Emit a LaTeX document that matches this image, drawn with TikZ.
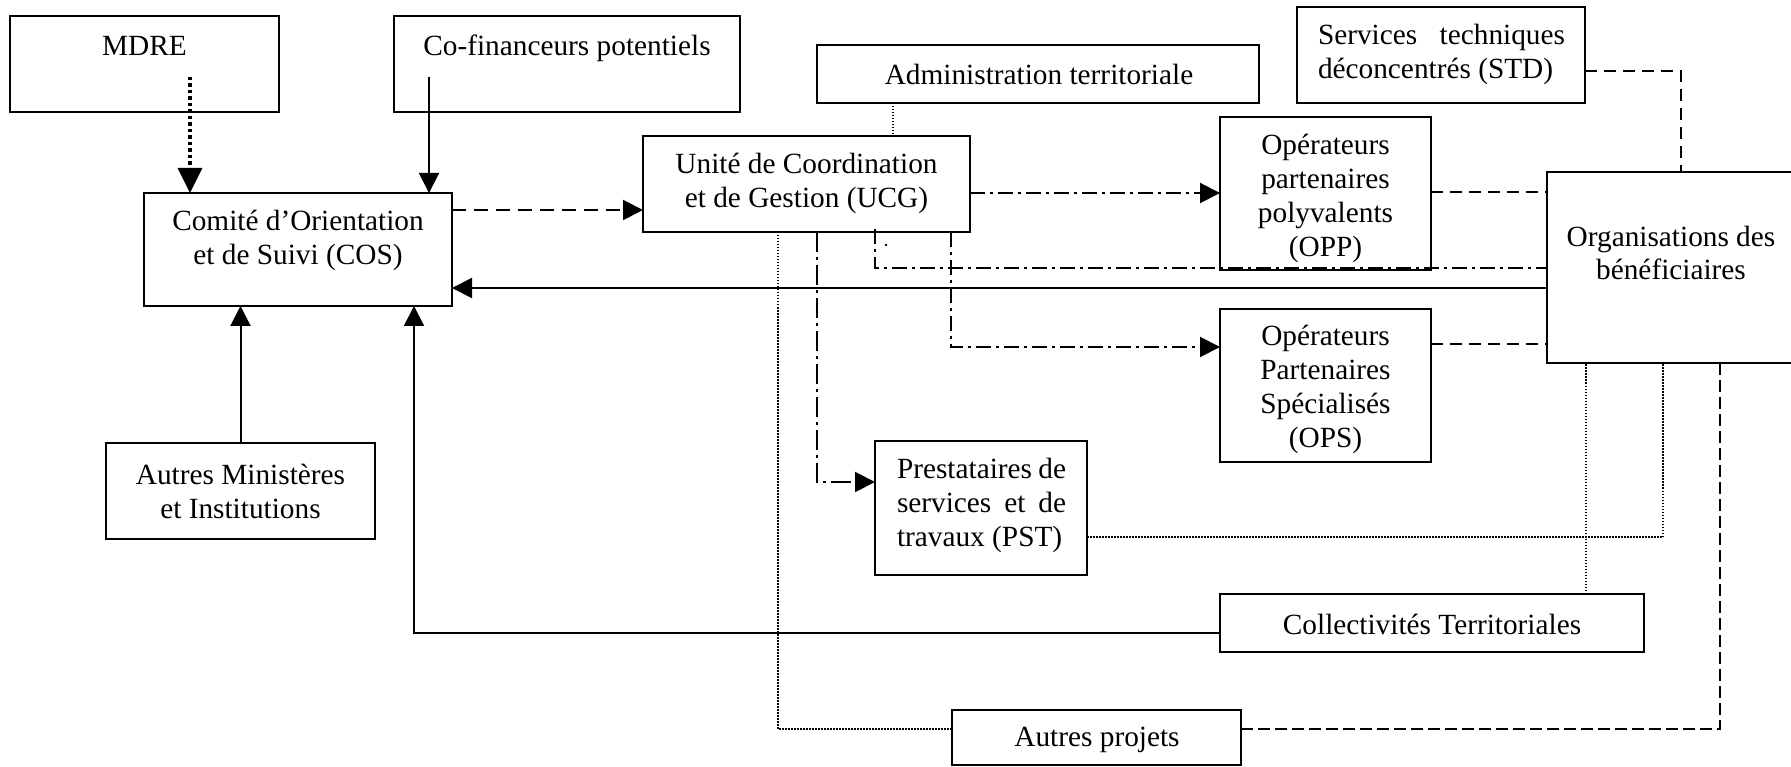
\documentclass[tikz,border=0pt]{standalone}
\usepackage{fontspec}
\setmainfont{Liberation Serif}
\usetikzlibrary{arrows.meta,calc}
\tikzset{
  box/.style={draw, line width=2pt, inner sep=0pt, outer sep=0pt},
  txt/.style={inner sep=0pt, outer sep=0pt, align=center},
  conn/.style={line width=2pt},
  arr/.style={-{Triangle[length=20pt,width=20pt]}},
  bigarr/.style={-{Triangle[length=25pt,width=24pt]}},
  dashln/.style={conn, dash pattern=on 12pt off 7pt},
  ddln/.style={conn, dash pattern=on 15pt off 5pt on 3pt off 5pt},
  thindot/.style={line width=1.4pt, dash pattern=on 1.5pt off 1.5pt},
  thickdot/.style={line width=3.5pt, dash pattern=on 3.5pt off 3pt},
}
\begin{document}
\begin{tikzpicture}[x=1pt,y=-1pt,font=\fontsize{29.3}{34}\selectfont]
\useasboundingbox (0,0) rectangle (1791,767);
% boxes
\node[box, minimum width=269pt, minimum height=96pt] (mdre) at (144.5,64) {};
\node[box, minimum width=346pt, minimum height=96pt] (cofin) at (567,64) {};
\node[box, minimum width=442pt, minimum height=58pt] (admin) at (1038,74) {};
\node[box, minimum width=288pt, minimum height=96pt] (std) at (1441,55) {};
\node[box, minimum width=308pt, minimum height=113pt] (cos) at (298,249.5) {};
\node[box, minimum width=327pt, minimum height=96pt] (ucg) at (806.5,184) {};
\node[box, minimum width=211pt, minimum height=153pt] (opp) at (1325.5,193.5) {};
\node[box, minimum width=248pt, minimum height=191pt] (org) at (1671,267.5) {};
\node[box, minimum width=211pt, minimum height=153pt] (ops) at (1325.5,385.5) {};
\node[box, minimum width=212pt, minimum height=134pt] (pst) at (981,508) {};
\node[box, minimum width=269pt, minimum height=96pt] (autmin) at (240.5,491) {};
\node[box, minimum width=424pt, minimum height=58pt] (coll) at (1432,623) {};
\node[box, minimum width=289pt, minimum height=55pt] (autproj) at (1096.5,737.5) {};
% texts
\node[txt] (mdret) at (144.5,46) {MDRE};
\node[txt] (cofint) at (567,48) {Co-financeurs potentiels};
\node[txt] (admint) at (1039,74) {Administration territoriale};
\node[txt, align=left] (stdt) at (1441.5,54) {\hbox to 247pt{Services\hfill techniques}\\déconcentrés (STD)};
\node[txt] (cost) at (298,240) {Comité d’Orientation\\et de Suivi (COS)};
\node[txt] (ucgt) at (806.5,183) {Unité de Coordination\\et de Gestion (UCG)};
\node[txt] (oppt) at (1325.5,198) {Opérateurs\\partenaires\\polyvalents\\(OPP)};
\node[txt, font=\fontsize{29.3}{33}\selectfont] (orgt) at (1671,253) {Organisations des\\bénéficiaires};
\node[txt] (opst) at (1325.5,389) {Opérateurs\\Partenaires\\Spécialisés\\(OPS)};
\node[txt, align=left] (pstt) at (981.5,505) {\hbox to 169pt{Prestataires\hfill de}\\\hbox to 169pt{services\hfill et\hfill de}\\travaux (PST)};
\node[txt] (autmint) at (240.5,491) {Autres Ministères\\et Institutions};
\node[txt] (collt) at (1432,624) {Collectivités Territoriales};
\node[txt] (autprojt) at (1097,740) {Autres projets};
% connectors
\coordinate (mdreS) at (190,77);
\coordinate (cofinS) at (429,77);
\draw[thickdot, bigarr] (mdreS) -- (mdreS |- cos.north);
\draw[conn, arr] (cofinS) -- (cofinS |- cos.north);
\draw[conn, dash pattern=on 14pt off 8pt, arr] ([yshift=39.5pt]cos.east) -- ([yshift=39.5pt]cos.east -| ucg.west);
\draw[ddln, arr] ([yshift=-9pt]ucg.east) -- ([yshift=-9pt]ucg.east -| opp.west);
\draw[ddln, arr] ([xshift=144.5pt]ucg.south) |- ([yshift=38.5pt]ops.west);
\draw[ddln, dash pattern=on 20pt off 5pt on 3pt off 5pt, arr] ([xshift=10.5pt]ucg.south) |- ([yshift=26pt]pst.west);
\draw[ddln] ([xshift=68.5pt,yshift=3pt]ucg.south) |- ([yshift=-0.5pt]org.west);
\draw[conn, arr] ([yshift=-20.5pt]org.west) -- ([yshift=-20.5pt]org.west -| cos.east);
\draw[conn, arr] (autmin.north) -- (autmin.north |- cos.south);
\draw[conn, arr] ([yshift=-10pt]coll.west) -| ([xshift=116pt]cos.south);
\draw[thindot] ([xshift=-145pt]admin.south) -- ([xshift=-145pt]admin.south |- ucg.north);
\draw[thindot] ([xshift=-28.5pt]ucg.south) |- ([yshift=8.5pt]autproj.west);
\draw[conn, line width=2.4pt, dash pattern=on 12pt off 5pt] ([yshift=8.5pt]autproj.east) -| ([xshift=49pt]org.south);
\draw[thindot] ([yshift=-29pt]pst.east) -| ([xshift=-8pt]org.south);
\draw[thindot] ([xshift=154pt]coll.north) -- ([xshift=154pt]coll.north |- org.south);
\draw[dashln] ([yshift=-16pt]std.east) -| ([xshift=10pt]org.north);
\draw[dashln] ([yshift=1.5pt]opp.east) -- ([yshift=1.5pt]opp.east -| org.west);
\draw[dashln] ([yshift=41.5pt]ops.east) -- ([yshift=41.5pt]ops.east -| org.west);
\fill (886,245) circle (1.3pt);
\end{tikzpicture}
\end{document}
